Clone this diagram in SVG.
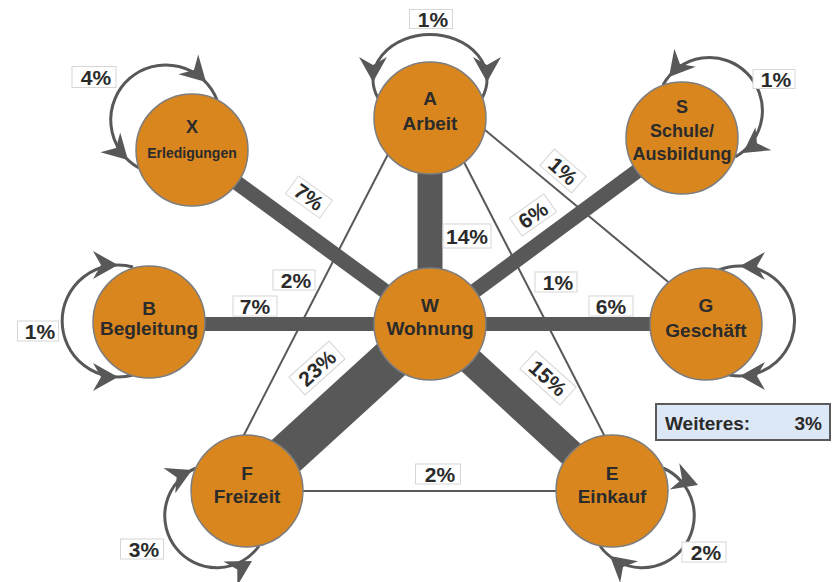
<svg xmlns="http://www.w3.org/2000/svg" width="834" height="582" viewBox="0 0 834 582">
<style>
.thick{stroke:#585858;fill:none}
.thin{stroke:#585858;stroke-width:2;fill:none}
.loop{stroke:#585858;stroke-width:3;fill:none}
.node circle{fill:#d9861f;stroke:#7d7d7d;stroke-width:1.5}
.node text{font-family:"Liberation Sans",Arial,sans-serif;font-weight:bold;font-size:19px;fill:#2b2b2b;text-anchor:middle}
.lbl rect{fill:#ffffff;stroke:#d6d6d6;stroke-width:1}
.lbl text{font-family:"Liberation Sans",Arial,sans-serif;font-weight:bold;font-size:21px;fill:#2b2b2b;text-anchor:middle}
.arrow{fill:#585858}
</style>
<defs>
<path id="ah" class="arrow" d="M0,0 L-25,-14 L-17,0 L-25,14 Z"/>
</defs>
<rect width="834" height="582" fill="#ffffff"/>
<g id="connectors">
<line class="thin" x1="403" y1="125" x2="226" y2="470"/>
<line class="thin" x1="445" y1="125" x2="622" y2="470"/>
<line class="thin" x1="479" y1="125" x2="708" y2="315"/>
<line class="thin" x1="247" y1="491" x2="612" y2="491"/>
<line class="thick" x1="430" y1="324" x2="430" y2="118" stroke-width="25"/>
<line class="thick" x1="430" y1="324" x2="192" y2="150" stroke-width="15"/>
<line class="thick" x1="430" y1="324" x2="682" y2="138" stroke-width="15"/>
<line class="thick" x1="430" y1="324" x2="149" y2="324" stroke-width="14"/>
<line class="thick" x1="430" y1="324" x2="706" y2="324" stroke-width="14"/>
<line class="thick" x1="430" y1="324" x2="247" y2="491" stroke-width="42"/>
<line class="thick" x1="430" y1="324" x2="612" y2="491" stroke-width="27"/>
<path class="loop" d="M378,98 A57 45 0 1 1 482,98"/>
<use href="#ah" transform="translate(373,82) rotate(90)"/>
<use href="#ah" transform="translate(487,82) rotate(90)"/>
<path class="loop" d="M217,100 A55 55 0 1 0 139,168"/>
<use href="#ah" transform="translate(206,82) rotate(45)"/>
<use href="#ah" transform="translate(128,160) rotate(45)"/>
<path class="loop" d="M663,85 A53 53 0 1 1 735,157"/>
<use href="#ah" transform="translate(669,77) rotate(130)"/>
<use href="#ah" transform="translate(743,153) rotate(145)"/>
<path class="loop" d="M133,267 A56 56 0 1 0 133,375"/>
<use href="#ah" transform="translate(118,265) rotate(0)"/>
<use href="#ah" transform="translate(118,377) rotate(0)"/>
<path class="loop" d="M719,270 A55 55 0 1 1 729,375"/>
<use href="#ah" transform="translate(740,266) rotate(180)"/>
<use href="#ah" transform="translate(740,376) rotate(180)"/>
<path class="loop" d="M196,468 A52 52 0 1 0 259,546"/>
<use href="#ah" transform="translate(192,470) rotate(-25)"/>
<use href="#ah" transform="translate(252,561) rotate(-30)"/>
<path class="loop" d="M663,468 A52 52 0 1 1 600,546"/>
<use href="#ah" transform="translate(698,485) rotate(20)"/>
<use href="#ah" transform="translate(610,556) rotate(-140)"/>
</g>
<g id="node-A" class="node"><circle cx="430" cy="118" r="56"/><text x="430" y="105">A</text><text x="430" y="130">Arbeit</text></g>
<g id="node-W" class="node"><circle cx="430" cy="324" r="56"/><text x="430" y="312">W</text><text x="430" y="335">Wohnung</text></g>
<g id="node-X" class="node"><circle cx="192" cy="150" r="56"/><text x="192" y="133" style="font-size:18px">X</text><text x="192" y="158" style="font-size:14px">Erledigungen</text></g>
<g id="node-S" class="node"><circle cx="682" cy="138" r="56"/><text x="682" y="113" style="font-size:18px">S</text><text x="682" y="137" style="font-size:18px">Schule/</text><text x="682" y="160" style="font-size:18px">Ausbildung</text></g>
<g id="node-B" class="node"><circle cx="149" cy="322" r="56"/><text x="149" y="315">B</text><text x="149" y="335">Begleitung</text></g>
<g id="node-G" class="node"><circle cx="706" cy="324" r="56"/><text x="706" y="312">G</text><text x="706" y="337">Geschäft</text></g>
<g id="node-F" class="node"><circle cx="247" cy="491" r="56"/><text x="247" y="480">F</text><text x="247" y="503">Freizeit</text></g>
<g id="node-E" class="node"><circle cx="612" cy="491" r="56"/><text x="612" y="480">E</text><text x="612" y="503">Einkauf</text></g>
<g id="labels">
<g class="lbl" transform="translate(431,19)"><rect x="-21.5" y="-9.5" width="43" height="19"/><text x="2" y="7.5">1%</text></g>
<g class="lbl" transform="translate(94,77)"><rect x="-22" y="-10.5" width="44" height="21"/><text x="2" y="7.5">4%</text></g>
<g class="lbl" transform="translate(774,79)"><rect x="-21" y="-9.5" width="42" height="19"/><text x="2" y="7.5">1%</text></g>
<g class="lbl" transform="translate(467,236)"><rect x="-24" y="-12" width="48" height="24"/><text x="0" y="7.5">14%</text></g>
<g class="lbl" transform="translate(294,280)"><rect x="-21" y="-10" width="42" height="20"/><text x="2" y="7.5">2%</text></g>
<g class="lbl" transform="translate(556,282)"><rect x="-21" y="-10" width="42" height="20"/><text x="2" y="7.5">1%</text></g>
<g class="lbl" transform="translate(309,197) rotate(35.5)"><rect x="-21" y="-11" width="42" height="22"/><text x="0" y="7.5">7%</text></g>
<g class="lbl" transform="translate(533,215) rotate(-35)"><rect x="-21" y="-11" width="42" height="22"/><text x="0" y="7.5">6%</text></g>
<g class="lbl" transform="translate(563,171) rotate(41)"><rect x="-21" y="-11" width="42" height="22"/><text x="0" y="7.5">1%</text></g>
<g class="lbl" transform="translate(255,306)"><rect x="-22" y="-10" width="44" height="20"/><text x="0" y="7.5">7%</text></g>
<g class="lbl" transform="translate(611,306)"><rect x="-22" y="-10" width="44" height="20"/><text x="0" y="7.5">6%</text></g>
<g class="lbl" transform="translate(38,331)"><rect x="-20.5" y="-10" width="41" height="20"/><text x="2" y="7.5">1%</text></g>
<g class="lbl" transform="translate(317,368) rotate(-42)"><rect x="-27" y="-12" width="54" height="24"/><text x="0" y="7.5">23%</text></g>
<g class="lbl" transform="translate(548,378) rotate(42)"><rect x="-27" y="-12" width="54" height="24"/><text x="0" y="7.5">15%</text></g>
<g class="lbl" transform="translate(438,474)"><rect x="-22.5" y="-10" width="45" height="20"/><text x="2" y="7.5">2%</text></g>
<g class="lbl" transform="translate(142,549)"><rect x="-21.5" y="-10" width="43" height="20"/><text x="2" y="7.5">3%</text></g>
<g class="lbl" transform="translate(704,552)"><rect x="-22" y="-10" width="44" height="20"/><text x="2" y="7.5">2%</text></g>
</g>
<g id="weiteres">
<rect x="656" y="404" width="174" height="36" fill="#dde8f6" stroke="#5a5a5a" stroke-width="2"/>
<text x="665" y="430" style="font-family:'Liberation Sans',Arial,sans-serif;font-weight:bold;font-size:19px;fill:#2b2b2b">Weiteres:</text>
<text x="822" y="430" style="font-family:'Liberation Sans',Arial,sans-serif;font-weight:bold;font-size:19px;fill:#2b2b2b;text-anchor:end">3%</text>
</g>
</svg>
